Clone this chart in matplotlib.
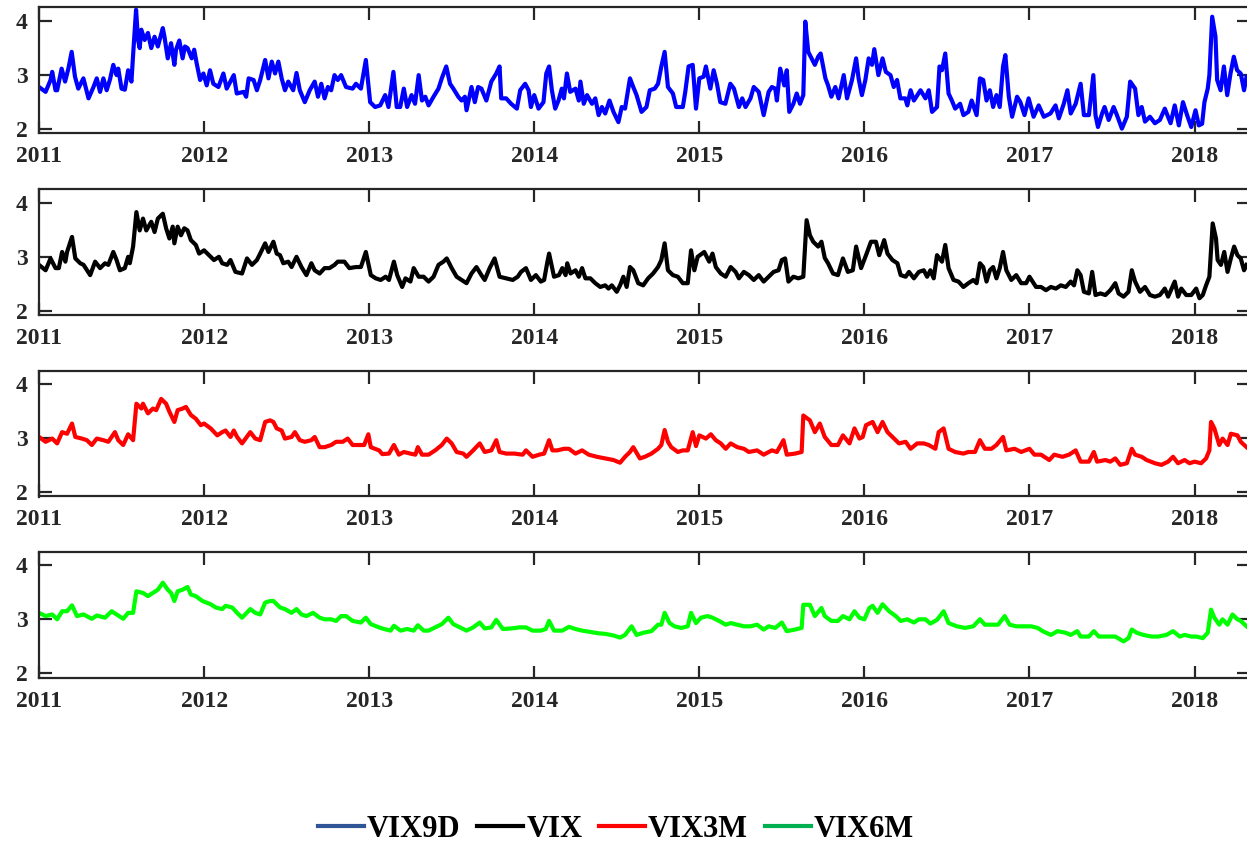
import matplotlib
matplotlib.use("Agg")
import matplotlib.pyplot as plt
from matplotlib.lines import Line2D

# (decimal year, value)
vix9d = [
    (2011.00, 2.77), (2011.04, 2.68), (2011.07, 2.90), (2011.08, 3.05), (2011.10, 2.71),
    (2011.11, 2.71), (2011.137, 3.11), (2011.158, 2.87), (2011.178, 3.11), (2011.198, 3.42),
    (2011.218, 2.96), (2011.238, 2.74), (2011.269, 2.93), (2011.30, 2.56), (2011.33, 2.77),
    (2011.35, 2.93), (2011.37, 2.68), (2011.39, 2.93), (2011.41, 2.71), (2011.43, 2.91),
    (2011.45, 3.18), (2011.47, 2.99), (2011.48, 3.11), (2011.50, 2.74), (2011.52, 2.72),
    (2011.54, 3.08), (2011.56, 2.87), (2011.57, 3.36), (2011.588, 4.20), (2011.60, 3.64),
    (2011.61, 3.49), (2011.62, 3.83), (2011.64, 3.64), (2011.66, 3.77), (2011.68, 3.49),
    (2011.70, 3.70), (2011.72, 3.52), (2011.75, 3.86), (2011.76, 3.70), (2011.78, 3.30),
    (2011.80, 3.58), (2011.82, 3.18), (2011.83, 3.46), (2011.85, 3.63), (2011.87, 3.30),
    (2011.884, 3.52), (2011.90, 3.49), (2011.925, 3.30), (2011.94, 3.46), (2011.955, 3.21),
    (2011.976, 2.90), (2011.996, 3.02), (2012.016, 2.80), (2012.036, 3.08), (2012.056, 2.83),
    (2012.087, 2.77), (2012.117, 3.02), (2012.137, 2.74), (2012.18, 2.99), (2012.198, 2.65),
    (2012.24, 2.68), (2012.255, 2.59), (2012.27, 2.93), (2012.30, 2.90), (2012.32, 2.71),
    (2012.34, 2.90), (2012.37, 3.27), (2012.39, 2.93), (2012.41, 3.24), (2012.43, 3.02),
    (2012.45, 3.24), (2012.47, 2.93), (2012.49, 2.71), (2012.51, 2.87), (2012.54, 2.71),
    (2012.56, 3.03), (2012.58, 2.71), (2012.61, 2.49), (2012.64, 2.71), (2012.67, 2.87),
    (2012.69, 2.59), (2012.71, 2.83), (2012.73, 2.56), (2012.75, 2.77), (2012.77, 2.71),
    (2012.79, 2.99), (2012.81, 2.90), (2012.83, 2.99), (2012.86, 2.77), (2012.90, 2.74),
    (2012.92, 2.83), (2012.95, 2.74), (2012.98, 3.27), (2013.006, 2.49), (2013.036, 2.40),
    (2013.067, 2.43), (2013.097, 2.62), (2013.117, 2.40), (2013.147, 3.05), (2013.167, 2.40),
    (2013.188, 2.40), (2013.21, 2.74), (2013.23, 2.40), (2013.257, 2.62), (2013.278, 2.46),
    (2013.30, 2.99), (2013.32, 2.52), (2013.34, 2.59), (2013.36, 2.43), (2013.39, 2.59),
    (2013.42, 2.74), (2013.44, 2.93), (2013.467, 3.15), (2013.49, 2.83), (2013.51, 2.74),
    (2013.54, 2.59), (2013.56, 2.52), (2013.58, 2.59), (2013.59, 2.34), (2013.62, 2.77),
    (2013.64, 2.49), (2013.66, 2.77), (2013.68, 2.74), (2013.71, 2.52), (2013.74, 2.87),
    (2013.77, 3.02), (2013.79, 3.15), (2013.80, 2.56), (2013.83, 2.56), (2013.86, 2.46),
    (2013.895, 2.37), (2013.915, 2.71), (2013.945, 2.83), (2013.966, 2.71), (2013.98, 2.40),
    (2014.00, 2.62), (2014.026, 2.37), (2014.056, 2.49), (2014.073, 3.02), (2014.09, 3.15),
    (2014.107, 2.71), (2014.127, 2.37), (2014.147, 2.52), (2014.167, 2.74), (2014.18, 2.56),
    (2014.198, 3.02), (2014.218, 2.68), (2014.25, 2.74), (2014.27, 2.52), (2014.28, 2.87),
    (2014.30, 2.46), (2014.32, 2.62), (2014.35, 2.46), (2014.37, 2.56), (2014.39, 2.25),
    (2014.41, 2.40), (2014.43, 2.28), (2014.456, 2.52), (2014.48, 2.31), (2014.51, 2.12),
    (2014.53, 2.40), (2014.55, 2.37), (2014.58, 2.93), (2014.60, 2.77), (2014.62, 2.62),
    (2014.65, 2.31), (2014.68, 2.40), (2014.70, 2.71), (2014.73, 2.74), (2014.75, 2.83),
    (2014.77, 3.15), (2014.79, 3.42), (2014.81, 2.77), (2014.84, 2.65), (2014.86, 2.40),
    (2014.90, 2.40), (2014.915, 2.68), (2014.935, 3.15), (2014.96, 3.18), (2014.98, 2.37),
    (2015.00, 2.93), (2015.026, 2.96), (2015.04, 3.15), (2015.067, 2.74), (2015.087, 3.08),
    (2015.107, 2.83), (2015.127, 2.49), (2015.158, 2.46), (2015.188, 2.83), (2015.21, 2.74),
    (2015.24, 2.40), (2015.26, 2.56), (2015.28, 2.40), (2015.31, 2.56), (2015.33, 2.77),
    (2015.36, 2.68), (2015.39, 2.25), (2015.42, 2.68), (2015.44, 2.77), (2015.46, 2.74),
    (2015.47, 2.52), (2015.49, 3.11), (2015.515, 2.80), (2015.53, 3.08), (2015.545, 2.31),
    (2015.57, 2.46), (2015.59, 2.65), (2015.61, 2.46), (2015.63, 2.62), (2015.642, 3.98),
    (2015.66, 3.42), (2015.68, 3.30), (2015.70, 3.18), (2015.72, 3.33), (2015.735, 3.39),
    (2015.764, 2.93), (2015.78, 2.80), (2015.80, 2.59), (2015.824, 2.77), (2015.844, 2.56),
    (2015.875, 2.99), (2015.895, 2.56), (2015.925, 2.90), (2015.95, 3.30), (2015.965, 2.93),
    (2015.985, 2.62), (2016.006, 2.90), (2016.026, 3.30), (2016.046, 3.18), (2016.06, 3.47),
    (2016.085, 2.99), (2016.11, 3.30), (2016.13, 3.05), (2016.158, 2.99), (2016.178, 2.77),
    (2016.198, 2.90), (2016.218, 2.56), (2016.248, 2.56), (2016.26, 2.43), (2016.28, 2.71),
    (2016.30, 2.52), (2016.34, 2.71), (2016.37, 2.56), (2016.39, 2.71), (2016.41, 2.31),
    (2016.44, 2.40), (2016.455, 3.15), (2016.47, 3.08), (2016.49, 3.39), (2016.51, 2.65),
    (2016.53, 2.52), (2016.55, 2.37), (2016.58, 2.46), (2016.60, 2.25), (2016.63, 2.31),
    (2016.65, 2.52), (2016.68, 2.25), (2016.70, 2.93), (2016.72, 2.90), (2016.74, 2.52),
    (2016.76, 2.71), (2016.78, 2.40), (2016.80, 2.62), (2016.82, 2.40), (2016.84, 3.15),
    (2016.854, 3.36), (2016.875, 2.59), (2016.895, 2.22), (2016.925, 2.59), (2016.945, 2.49),
    (2016.97, 2.25), (2016.995, 2.56), (2017.025, 2.22), (2017.056, 2.43), (2017.087, 2.22),
    (2017.127, 2.28), (2017.158, 2.43), (2017.178, 2.19), (2017.208, 2.46), (2017.23, 2.71),
    (2017.25, 2.28), (2017.28, 2.46), (2017.31, 2.83), (2017.33, 2.25), (2017.36, 2.25),
    (2017.387, 2.99), (2017.40, 2.25), (2017.415, 2.03), (2017.44, 2.28), (2017.455, 2.40),
    (2017.48, 2.16), (2017.51, 2.40), (2017.53, 2.25), (2017.56, 2.00), (2017.59, 2.22),
    (2017.61, 2.87), (2017.64, 2.74), (2017.66, 2.25), (2017.68, 2.40), (2017.70, 2.13),
    (2017.73, 2.22), (2017.76, 2.10), (2017.79, 2.16), (2017.82, 2.37), (2017.855, 2.10),
    (2017.88, 2.43), (2017.905, 2.06), (2017.93, 2.49), (2017.955, 2.25), (2017.98, 2.03),
    (2018.006, 2.34), (2018.026, 2.06), (2018.046, 2.09), (2018.06, 2.49), (2018.08, 2.74),
    (2018.09, 2.99), (2018.107, 4.07), (2018.127, 3.70), (2018.137, 2.90), (2018.158, 2.71),
    (2018.178, 3.15), (2018.198, 2.62), (2018.218, 3.02), (2018.238, 3.33), (2018.258, 3.08),
    (2018.28, 3.02), (2018.30, 2.71), (2018.315, 2.96),
]

vix = [
    (2011.00, 2.85), (2011.04, 2.75), (2011.07, 2.97), (2011.10, 2.79), (2011.12, 2.79),
    (2011.14, 3.09), (2011.16, 2.91), (2011.17, 3.09), (2011.20, 3.37), (2011.22, 2.97),
    (2011.25, 2.88), (2011.27, 2.85), (2011.31, 2.66), (2011.34, 2.91), (2011.37, 2.79),
    (2011.40, 2.88), (2011.42, 2.85), (2011.45, 3.09), (2011.47, 2.94), (2011.49, 2.75),
    (2011.52, 2.79), (2011.54, 3.00), (2011.55, 2.88), (2011.57, 3.19), (2011.59, 3.83),
    (2011.61, 3.49), (2011.63, 3.71), (2011.65, 3.49), (2011.68, 3.65), (2011.70, 3.46),
    (2011.72, 3.71), (2011.75, 3.80), (2011.77, 3.53), (2011.79, 3.34), (2011.81, 3.56),
    (2011.82, 3.25), (2011.84, 3.56), (2011.86, 3.40), (2011.88, 3.53), (2011.90, 3.49),
    (2011.92, 3.31), (2011.95, 3.22), (2011.97, 3.06), (2012.00, 3.12), (2012.03, 3.03),
    (2012.06, 2.94), (2012.09, 3.00), (2012.11, 2.88), (2012.14, 2.85), (2012.16, 2.94),
    (2012.19, 2.72), (2012.23, 2.69), (2012.26, 2.97), (2012.29, 2.85), (2012.32, 2.94),
    (2012.34, 3.06), (2012.37, 3.25), (2012.39, 3.09), (2012.42, 3.28), (2012.44, 3.06),
    (2012.46, 3.03), (2012.48, 2.88), (2012.51, 2.91), (2012.53, 2.81), (2012.56, 3.00),
    (2012.59, 2.81), (2012.62, 2.66), (2012.65, 2.88), (2012.67, 2.75), (2012.70, 2.69),
    (2012.73, 2.79), (2012.76, 2.79), (2012.79, 2.85), (2012.81, 2.91), (2012.85, 2.91),
    (2012.88, 2.79), (2012.92, 2.81), (2012.95, 2.81), (2012.98, 3.09), (2013.01, 2.66),
    (2013.04, 2.60), (2013.07, 2.57), (2013.10, 2.63), (2013.12, 2.57), (2013.15, 2.91),
    (2013.17, 2.66), (2013.20, 2.44), (2013.22, 2.60), (2013.25, 2.54), (2013.27, 2.79),
    (2013.30, 2.63), (2013.33, 2.63), (2013.36, 2.54), (2013.39, 2.63), (2013.42, 2.85),
    (2013.45, 2.91), (2013.47, 2.97), (2013.50, 2.79), (2013.53, 2.63), (2013.56, 2.57),
    (2013.59, 2.51), (2013.62, 2.69), (2013.65, 2.81), (2013.68, 2.66), (2013.70, 2.57),
    (2013.73, 2.79), (2013.76, 2.97), (2013.79, 2.63), (2013.83, 2.60), (2013.87, 2.57),
    (2013.90, 2.63), (2013.92, 2.72), (2013.95, 2.79), (2013.98, 2.57), (2014.01, 2.66),
    (2014.04, 2.54), (2014.06, 2.57), (2014.08, 2.91), (2014.09, 3.06), (2014.12, 2.63),
    (2014.15, 2.66), (2014.17, 2.79), (2014.19, 2.66), (2014.20, 2.88), (2014.22, 2.69),
    (2014.25, 2.75), (2014.27, 2.63), (2014.29, 2.79), (2014.31, 2.60), (2014.34, 2.60),
    (2014.37, 2.51), (2014.40, 2.44), (2014.43, 2.47), (2014.45, 2.41), (2014.47, 2.47),
    (2014.50, 2.35), (2014.52, 2.47), (2014.54, 2.63), (2014.56, 2.44), (2014.58, 2.81),
    (2014.60, 2.75), (2014.63, 2.51), (2014.66, 2.47), (2014.69, 2.60), (2014.72, 2.69),
    (2014.75, 2.81), (2014.77, 2.94), (2014.79, 3.25), (2014.81, 2.75), (2014.84, 2.66),
    (2014.87, 2.63), (2014.90, 2.51), (2014.93, 2.51), (2014.95, 3.12), (2014.97, 2.75),
    (2014.99, 3.00), (2015.03, 3.09), (2015.06, 2.91), (2015.08, 3.06), (2015.10, 2.81),
    (2015.13, 2.69), (2015.16, 2.63), (2015.19, 2.81), (2015.22, 2.72), (2015.24, 2.60),
    (2015.27, 2.72), (2015.30, 2.66), (2015.33, 2.57), (2015.36, 2.66), (2015.39, 2.54),
    (2015.42, 2.63), (2015.45, 2.72), (2015.48, 2.75), (2015.50, 2.94), (2015.52, 2.97),
    (2015.54, 2.54), (2015.57, 2.63), (2015.60, 2.60), (2015.63, 2.63), (2015.65, 3.68),
    (2015.67, 3.40), (2015.69, 3.28), (2015.72, 3.19), (2015.74, 3.28), (2015.76, 2.98),
    (2015.78, 2.88), (2015.81, 2.69), (2015.84, 2.66), (2015.87, 2.97), (2015.90, 2.72),
    (2015.93, 2.75), (2015.95, 3.19), (2015.98, 2.79), (2016.01, 3.03), (2016.04, 3.28),
    (2016.07, 3.28), (2016.09, 3.03), (2016.12, 3.31), (2016.14, 3.06), (2016.17, 2.94),
    (2016.20, 2.88), (2016.22, 2.66), (2016.25, 2.63), (2016.27, 2.72), (2016.30, 2.60),
    (2016.33, 2.72), (2016.36, 2.75), (2016.38, 2.63), (2016.40, 2.75), (2016.42, 2.60),
    (2016.44, 3.03), (2016.47, 2.91), (2016.49, 3.22), (2016.51, 2.79), (2016.54, 2.57),
    (2016.57, 2.54), (2016.60, 2.44), (2016.63, 2.51), (2016.66, 2.57), (2016.68, 2.51),
    (2016.70, 2.88), (2016.72, 2.81), (2016.74, 2.54), (2016.76, 2.75), (2016.78, 2.81),
    (2016.80, 2.60), (2016.82, 2.79), (2016.84, 3.09), (2016.86, 2.75), (2016.89, 2.57),
    (2016.92, 2.66), (2016.95, 2.51), (2016.98, 2.51), (2017.00, 2.63), (2017.04, 2.44),
    (2017.07, 2.44), (2017.10, 2.38), (2017.13, 2.44), (2017.16, 2.41), (2017.19, 2.47),
    (2017.22, 2.44), (2017.25, 2.54), (2017.27, 2.47), (2017.29, 2.75), (2017.31, 2.66),
    (2017.33, 2.35), (2017.36, 2.32), (2017.38, 2.72), (2017.40, 2.29), (2017.43, 2.32),
    (2017.46, 2.29), (2017.49, 2.38), (2017.52, 2.51), (2017.54, 2.32), (2017.57, 2.26),
    (2017.60, 2.35), (2017.62, 2.75), (2017.64, 2.54), (2017.67, 2.35), (2017.70, 2.44),
    (2017.73, 2.29), (2017.76, 2.26), (2017.79, 2.29), (2017.82, 2.41), (2017.84, 2.26),
    (2017.88, 2.54), (2017.90, 2.26), (2017.92, 2.41), (2017.95, 2.29), (2017.98, 2.29),
    (2018.01, 2.41), (2018.03, 2.23), (2018.05, 2.29), (2018.07, 2.47), (2018.09, 2.63),
    (2018.11, 3.62), (2018.13, 3.34), (2018.14, 2.94), (2018.16, 2.85), (2018.18, 3.09),
    (2018.20, 2.72), (2018.22, 2.97), (2018.24, 3.19), (2018.26, 3.03), (2018.28, 2.97),
    (2018.30, 2.75), (2018.315, 2.85),
]

vix3m = [
    (2011.00, 3.02), (2011.04, 2.93), (2011.08, 2.99), (2011.11, 2.90), (2011.14, 3.11),
    (2011.17, 3.08), (2011.20, 3.27), (2011.22, 3.02), (2011.26, 2.99), (2011.29, 2.96),
    (2011.32, 2.87), (2011.35, 2.99), (2011.39, 2.96), (2011.42, 2.93), (2011.46, 3.11),
    (2011.48, 2.96), (2011.51, 2.87), (2011.54, 3.07), (2011.57, 2.96), (2011.59, 3.64),
    (2011.62, 3.55), (2011.63, 3.64), (2011.66, 3.46), (2011.69, 3.55), (2011.71, 3.52),
    (2011.74, 3.73), (2011.77, 3.64), (2011.79, 3.49), (2011.82, 3.30), (2011.84, 3.52),
    (2011.87, 3.55), (2011.89, 3.58), (2011.92, 3.43), (2011.95, 3.36), (2011.98, 3.24),
    (2012.00, 3.27), (2012.04, 3.18), (2012.08, 3.05), (2012.11, 3.11), (2012.13, 3.14),
    (2012.16, 3.02), (2012.18, 3.14), (2012.20, 3.02), (2012.23, 2.90), (2012.28, 3.11),
    (2012.31, 2.99), (2012.34, 2.96), (2012.37, 3.30), (2012.40, 3.33), (2012.42, 3.30),
    (2012.44, 3.18), (2012.47, 3.14), (2012.49, 2.99), (2012.53, 3.02), (2012.55, 3.11),
    (2012.58, 2.96), (2012.61, 2.93), (2012.65, 2.96), (2012.67, 3.02), (2012.70, 2.83),
    (2012.73, 2.83), (2012.77, 2.87), (2012.80, 2.93), (2012.84, 2.93), (2012.87, 2.99),
    (2012.90, 2.87), (2012.94, 2.87), (2012.97, 2.87), (2012.995, 3.07), (2013.01, 2.83),
    (2013.06, 2.77), (2013.08, 2.70), (2013.12, 2.71), (2013.15, 2.87), (2013.18, 2.69),
    (2013.21, 2.74), (2013.25, 2.71), (2013.28, 2.69), (2013.295, 2.83), (2013.32, 2.69),
    (2013.36, 2.69), (2013.40, 2.77), (2013.44, 2.87), (2013.47, 2.99), (2013.50, 2.90),
    (2013.53, 2.74), (2013.57, 2.71), (2013.59, 2.65), (2013.63, 2.77), (2013.67, 2.90),
    (2013.70, 2.74), (2013.74, 2.77), (2013.77, 2.96), (2013.79, 2.74), (2013.83, 2.71),
    (2013.88, 2.71), (2013.93, 2.69), (2013.95, 2.77), (2013.99, 2.65), (2014.03, 2.69),
    (2014.06, 2.71), (2014.09, 2.96), (2014.11, 2.77), (2014.14, 2.77), (2014.18, 2.80),
    (2014.21, 2.80), (2014.25, 2.71), (2014.29, 2.77), (2014.33, 2.69), (2014.38, 2.65),
    (2014.43, 2.62), (2014.48, 2.59), (2014.52, 2.54), (2014.55, 2.65), (2014.58, 2.74),
    (2014.60, 2.83), (2014.64, 2.62), (2014.67, 2.65), (2014.71, 2.71), (2014.75, 2.80),
    (2014.77, 2.87), (2014.79, 3.15), (2014.81, 2.93), (2014.83, 2.83), (2014.87, 2.74),
    (2014.90, 2.77), (2014.93, 2.77), (2014.96, 3.11), (2014.98, 2.85), (2015.00, 3.05),
    (2015.04, 2.99), (2015.07, 3.07), (2015.10, 2.96), (2015.13, 2.90), (2015.16, 2.80),
    (2015.19, 2.90), (2015.23, 2.83), (2015.27, 2.80), (2015.30, 2.74), (2015.35, 2.77),
    (2015.39, 2.69), (2015.44, 2.77), (2015.47, 2.74), (2015.51, 2.96), (2015.53, 2.69),
    (2015.58, 2.71), (2015.62, 2.74), (2015.63, 3.42), (2015.67, 3.33), (2015.70, 3.11),
    (2015.73, 3.27), (2015.76, 3.02), (2015.80, 2.87), (2015.84, 2.87), (2015.87, 3.05),
    (2015.91, 2.90), (2015.94, 3.18), (2015.97, 2.99), (2015.99, 3.02), (2016.01, 3.24),
    (2016.05, 3.30), (2016.08, 3.11), (2016.11, 3.30), (2016.14, 3.11), (2016.17, 3.02),
    (2016.21, 2.90), (2016.25, 2.93), (2016.28, 2.80), (2016.32, 2.90), (2016.36, 2.90),
    (2016.39, 2.87), (2016.43, 2.80), (2016.45, 3.11), (2016.48, 3.18), (2016.51, 2.80),
    (2016.55, 2.74), (2016.60, 2.71), (2016.63, 2.74), (2016.67, 2.74), (2016.70, 2.96),
    (2016.73, 2.80), (2016.77, 2.80), (2016.80, 2.87), (2016.84, 3.02), (2016.86, 2.77),
    (2016.91, 2.80), (2016.95, 2.74), (2017.00, 2.80), (2017.03, 2.69), (2017.07, 2.69),
    (2017.12, 2.59), (2017.15, 2.69), (2017.20, 2.65), (2017.24, 2.69), (2017.28, 2.77),
    (2017.31, 2.56), (2017.36, 2.56), (2017.39, 2.74), (2017.41, 2.56), (2017.46, 2.59),
    (2017.49, 2.56), (2017.52, 2.62), (2017.55, 2.50), (2017.59, 2.53), (2017.62, 2.80),
    (2017.64, 2.69), (2017.68, 2.65), (2017.71, 2.59), (2017.76, 2.53), (2017.80, 2.50),
    (2017.84, 2.56), (2017.87, 2.65), (2017.90, 2.53), (2017.94, 2.59), (2017.97, 2.53),
    (2018.00, 2.56), (2018.04, 2.53), (2018.07, 2.62), (2018.09, 2.77), (2018.10, 3.30),
    (2018.12, 3.18), (2018.15, 2.87), (2018.17, 2.99), (2018.20, 2.87), (2018.22, 3.08),
    (2018.26, 3.05), (2018.28, 2.93), (2018.315, 2.83),
]

vix6m = [
    (2011.00, 3.12), (2011.04, 3.06), (2011.08, 3.09), (2011.11, 3.00), (2011.14, 3.15),
    (2011.17, 3.15), (2011.20, 3.26), (2011.23, 3.06), (2011.27, 3.09), (2011.32, 3.01),
    (2011.35, 3.07), (2011.40, 3.03), (2011.44, 3.15), (2011.47, 3.09), (2011.51, 3.01),
    (2011.54, 3.12), (2011.57, 3.12), (2011.59, 3.52), (2011.63, 3.49), (2011.66, 3.43),
    (2011.69, 3.49), (2011.72, 3.55), (2011.75, 3.68), (2011.78, 3.55), (2011.80, 3.49),
    (2011.82, 3.34), (2011.84, 3.52), (2011.87, 3.55), (2011.90, 3.60), (2011.92, 3.46),
    (2011.95, 3.43), (2011.99, 3.34), (2012.04, 3.28), (2012.07, 3.22), (2012.11, 3.19),
    (2012.13, 3.25), (2012.17, 3.22), (2012.20, 3.12), (2012.23, 3.03), (2012.28, 3.19),
    (2012.31, 3.12), (2012.34, 3.09), (2012.37, 3.31), (2012.40, 3.34), (2012.42, 3.34),
    (2012.46, 3.22), (2012.49, 3.19), (2012.53, 3.12), (2012.56, 3.19), (2012.59, 3.09),
    (2012.62, 3.06), (2012.66, 3.12), (2012.70, 3.03), (2012.73, 3.00), (2012.77, 3.00),
    (2012.80, 2.97), (2012.83, 3.06), (2012.86, 3.06), (2012.90, 2.97), (2012.95, 2.94),
    (2012.98, 3.03), (2013.01, 2.91), (2013.06, 2.85), (2013.09, 2.82), (2013.13, 2.79),
    (2013.15, 2.88), (2013.19, 2.79), (2013.23, 2.82), (2013.27, 2.79), (2013.295, 2.89),
    (2013.33, 2.79), (2013.36, 2.79), (2013.40, 2.85), (2013.44, 2.91), (2013.48, 3.03),
    (2013.51, 2.91), (2013.55, 2.85), (2013.59, 2.79), (2013.63, 2.85), (2013.67, 2.94),
    (2013.70, 2.83), (2013.74, 2.85), (2013.77, 2.99), (2013.81, 2.82), (2013.86, 2.83),
    (2013.91, 2.85), (2013.95, 2.85), (2013.99, 2.79), (2014.04, 2.79), (2014.07, 2.82),
    (2014.09, 2.97), (2014.12, 2.79), (2014.17, 2.79), (2014.21, 2.86), (2014.25, 2.82),
    (2014.29, 2.79), (2014.33, 2.77), (2014.39, 2.74), (2014.43, 2.73), (2014.48, 2.70),
    (2014.52, 2.66), (2014.55, 2.71), (2014.59, 2.87), (2014.62, 2.71), (2014.66, 2.75),
    (2014.71, 2.78), (2014.75, 2.90), (2014.77, 2.90), (2014.79, 3.12), (2014.82, 2.93),
    (2014.85, 2.87), (2014.89, 2.84), (2014.93, 2.87), (2014.95, 3.12), (2014.98, 2.93),
    (2015.01, 3.03), (2015.05, 3.06), (2015.08, 3.03), (2015.12, 2.97), (2015.16, 2.90),
    (2015.19, 2.93), (2015.23, 2.90), (2015.27, 2.87), (2015.31, 2.87), (2015.35, 2.90),
    (2015.39, 2.81), (2015.42, 2.87), (2015.46, 2.84), (2015.50, 2.94), (2015.53, 2.78),
    (2015.58, 2.81), (2015.62, 2.84), (2015.63, 3.27), (2015.67, 3.27), (2015.70, 3.06),
    (2015.74, 3.21), (2015.76, 3.06), (2015.80, 2.97), (2015.84, 2.97), (2015.87, 3.06),
    (2015.91, 3.00), (2015.94, 3.15), (2015.97, 3.03), (2016.00, 3.00), (2016.03, 3.21),
    (2016.05, 3.25), (2016.08, 3.12), (2016.11, 3.28), (2016.15, 3.15), (2016.19, 3.06),
    (2016.22, 2.97), (2016.26, 3.00), (2016.30, 2.94), (2016.33, 3.00), (2016.37, 3.00),
    (2016.40, 2.92), (2016.44, 2.99), (2016.48, 3.15), (2016.51, 2.93), (2016.56, 2.87),
    (2016.61, 2.84), (2016.66, 2.87), (2016.70, 3.00), (2016.73, 2.90), (2016.78, 2.90),
    (2016.81, 2.90), (2016.85, 3.06), (2016.88, 2.90), (2016.92, 2.87), (2016.96, 2.87),
    (2017.01, 2.87), (2017.05, 2.84), (2017.08, 2.78), (2017.13, 2.71), (2017.17, 2.78),
    (2017.22, 2.75), (2017.25, 2.71), (2017.29, 2.78), (2017.31, 2.68), (2017.36, 2.68),
    (2017.39, 2.78), (2017.42, 2.68), (2017.47, 2.68), (2017.52, 2.68), (2017.57, 2.59),
    (2017.60, 2.65), (2017.62, 2.81), (2017.65, 2.75), (2017.69, 2.71), (2017.74, 2.68),
    (2017.78, 2.68), (2017.83, 2.71), (2017.87, 2.78), (2017.91, 2.68), (2017.94, 2.71),
    (2017.98, 2.68), (2018.01, 2.68), (2018.05, 2.65), (2018.08, 2.75), (2018.10, 3.18),
    (2018.12, 3.03), (2018.15, 2.90), (2018.17, 3.00), (2018.20, 2.90), (2018.23, 3.09),
    (2018.26, 3.00), (2018.28, 2.97), (2018.315, 2.87),
]

series = [vix9d, vix, vix3m, vix6m]
line_colors = ["#0000ff", "#000000", "#ff0000", "#00ff00"]
legend_names = ["VIX9D", "VIX", "VIX3M", "VIX6M"]
legend_colors = ["#2f5597", "#000000", "#ff0000", "#00b050"]
years = list(range(2011, 2019))
yticks = [2, 3, 4]

plt.rcParams["font.family"] = ["Liberation Serif", "DejaVu Serif"]
plt.rcParams["font.weight"] = "bold"

fig = plt.figure(figsize=(12.47, 8.46), dpi=100)

# axes boxes in pixels (top, bottom) of the reference
boxes = [(7, 133.5), (189.5, 315.5), (371, 496.5), (552, 678)]
H = 846.0
left = 39 / 1247.0
width = 1 - left + 2 / 1247.0   # right spine sits just off the canvas

for data, color, (top, bot) in zip(series, line_colors, boxes):
    ax = fig.add_axes([left, 1 - bot / H, width, (bot - top) / H])
    t = [p[0] for p in data]
    v = [p[1] for p in data]
    ax.plot(t, v, color=color, lw=3.0)
    ax.set_xlim(2011, 2018.33)
    ax.set_ylim(1.91, 4.25)
    ax.set_xticks(years)
    ax.set_xticklabels([str(y) for y in years])
    ax.set_yticks(yticks)
    ax.tick_params(direction="in", length=9, width=1.6, top=True, right=True,
                   labelsize=17, colors="#262626", pad=9)
    ax.tick_params(axis="y", pad=8)
    for lab in ax.get_xticklabels() + ax.get_yticklabels():
        lab.set_fontweight("bold")
        lab.set_color("#262626")
    for s in ax.spines.values():
        s.set_linewidth(1.6)
        s.set_color("#262626")

handles = [Line2D([], [], color=c, lw=3) for c in legend_colors]
fig.legend(handles, legend_names, loc="center", bbox_to_anchor=(0.494, 1 - 829 / H),
           ncol=4, frameon=False, handlelength=1.5, handletextpad=0.1,
           columnspacing=0.55, prop={"family": "Liberation Serif", "weight": "bold", "size": 22})

fig.savefig("out.png", dpi=100)
